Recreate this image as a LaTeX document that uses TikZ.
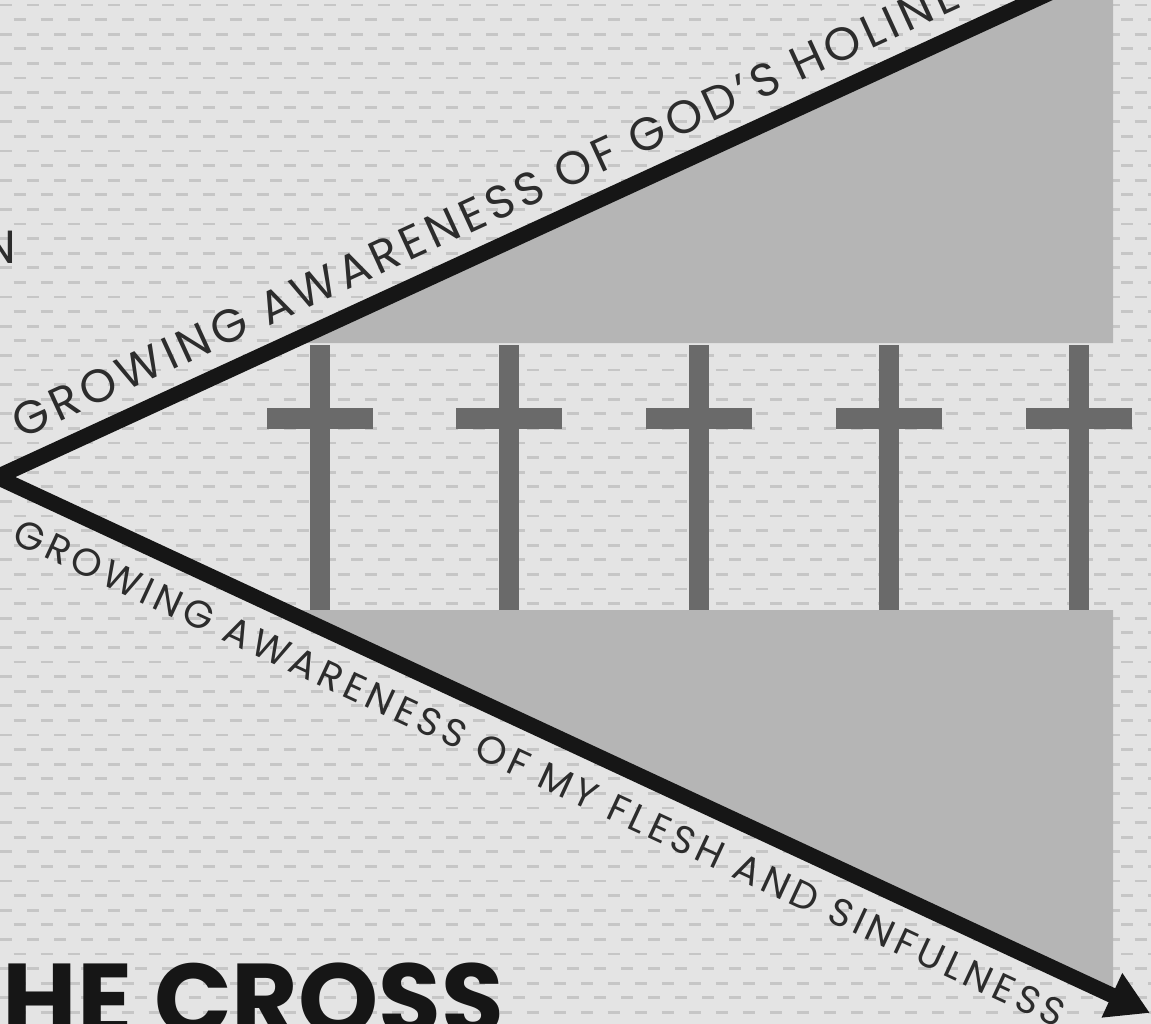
\documentclass[tikz,border=0pt]{standalone}
\usepackage{fontspec}
\setmainfont{Poppins}
\newfontfamily\upperfont[LetterSpace=10]{Poppins}
\newfontfamily\lowerfont[LetterSpace=12]{Poppins}
\newfontfamily\headfont{Poppins Bold}
\usetikzlibrary{arrows.meta}
\definecolor{bg}{HTML}{E4E4E4}
\definecolor{texc}{HTML}{C6C6C6}
\definecolor{band}{HTML}{B5B5B5}
\definecolor{crossc}{HTML}{6A6A6A}
\definecolor{ink}{HTML}{161616}
\definecolor{txt}{HTML}{2C2C2C}
\tikzset{
  upperlabel/.style={font=\upperfont\fontsize{13.2}{14}\selectfont, text=txt, inner sep=0pt},
  lowerlabel/.style={font=\lowerfont\fontsize{11}{12}\selectfont, text=txt, inner sep=0pt},
  headlabel/.style={font=\headfont\fontsize{29}{30}\selectfont, text=ink, inner sep=0pt},
  bigline/.style={draw=ink, line width=4.4pt, line join=miter},
}
\begin{document}
\begin{tikzpicture}[x=0.01cm,y=-0.01cm]
\useasboundingbox (0,0) rectangle (1151,1024);
\clip (0,0) rectangle (1151,1024);
\fill[bg] (0,0) rectangle (1151,1024);
% background texture
\foreach \r in {0,...,70} {
  \pgfmathsetmacro{\yy}{5+\r*14.6}
  \pgfmathsetmacro{\ph}{mod(\r,2)*0.135}
  \draw[texc, line width=0.8pt, dash pattern=on 0.12cm off 0.15cm, dash phase=\ph cm] (0,\yy) -- (1151,\yy);
}
% grey bands
\fill[band] (288,343) -- (1113,343) -- (1113,-5) -- (1045,-5) -- cycle;
\fill[band] (283,610) -- (1113,610) -- (1113,996) -- cycle;
% crosses
\foreach \cx in {320,509,699,889,1079} {
  \fill[crossc] (\cx-10,345) rectangle (\cx+10,610);
  \fill[crossc] (\cx-53,408) rectangle (\cx+53,429);
}
% main lines
\coordinate (topend) at (1056,-10);
\coordinate (apex) at (-3,477);
\coordinate (tip) at (1150,1013);
\draw[bigline, -{Triangle[length=0.42cm,width=0.46cm]}] (topend) -- (apex) -- (tip);
% labels
\node[upperlabel, anchor=base west, rotate=24.7] (t1) at (21,440) {GROWING AWARENESS OF GOD’S HOLINESS};
\node[lowerlabel, anchor=base west, rotate=-24.9] (t2) at (10,542) {GROWING AWARENESS OF MY FLESH AND SINFULNESS};
\node[upperlabel, anchor=base east] (n) at (17,263) {N};
\node[headlabel, anchor=base west] (hc) at (2,1035) {HE CROSS};
\end{tikzpicture}
\end{document}
